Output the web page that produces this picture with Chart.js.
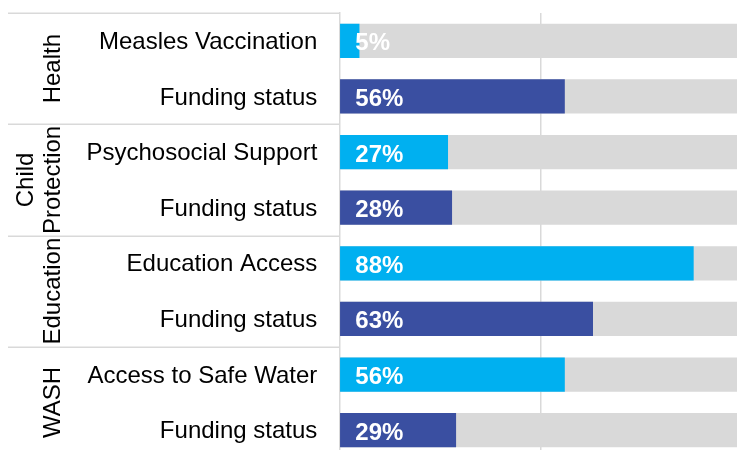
<!DOCTYPE html>
<html>
<head>
<meta charset="utf-8">
<script src="https://cdn.jsdelivr.net/npm/chart.js@4/dist/chart.umd.min.js"></script>
<style>
html, body { margin: 0; padding: 0; overflow: hidden; background: #fff; width: 737px; height: 450px; }
#wrap { width: 742px; height: 458px; }
canvas { display: block; }
</style>
</head>
<body>
<div id="wrap"><canvas id="c" width="742" height="458"></canvas></div>
<script>
// ---- data ----
const groupLabels = [['Health'], ['Child', 'Protection'], ['Education'], ['WASH']];
const groupSizes = [2, 2, 2, 2];
const categories = ['Measles Vaccination', 'Funding status', 'Psychosocial Support', 'Funding status',
                    'Education Access', 'Funding status', 'Access to Safe Water', 'Funding status'];
const values = [5, 56, 27, 28, 88, 63, 56, 29];
const fullScale = [100, 100, 100, 100, 100, 100, 100, 100];
const gridTicks = [0, 50, 100];

// ---- styles ----
const FONT = '"Liberation Sans", Arial, sans-serif';
const LIGHT = '#00B0F0';
const DARK = '#3A4FA1';
const GREY = '#D9D9D9';
const barColors = categories.map((c, i) => (i % 2 === 0 ? LIGHT : DARK));

const groupPlugin = {
  id: 'groups',
  afterDraw(chart) {
    const ctx = chart.ctx;
    const ys = chart.scales.y;
    const area = chart.chartArea;
    const pix = i => ys.getPixelForValue(i);
    const boundary = i => {
      if (i <= 0) return area.top;
      if (i >= categories.length) return area.bottom;
      return (pix(i - 1) + pix(i)) / 2;
    };
    ctx.save();
    ctx.strokeStyle = GREY;
    ctx.lineWidth = 1.5;
    let start = 0;
    groupSizes.forEach((n, g) => {
      const top = boundary(start);
      const bot = boundary(start + n);
      ctx.beginPath();
      ctx.moveTo(8, Math.round(top) + 0.25);
      ctx.lineTo(area.left, Math.round(top) + 0.25);
      ctx.stroke();
      const mid = (top + bot) / 2;
      const lines = groupLabels[g];
      ctx.fillStyle = '#000';
      ctx.font = '24px ' + FONT;
      ctx.textAlign = 'center';
      ctx.textBaseline = 'alphabetic';
      lines.forEach((t, k) => {
        const x = 60 - (lines.length - 1 - k) * 27;
        ctx.save();
        ctx.translate(x, mid);
        ctx.rotate(-Math.PI / 2);
        ctx.fillText(t, 0, 0);
        ctx.restore();
      });
      start += n;
    });
    // value labels
    const meta = chart.getDatasetMeta(0);
    ctx.fillStyle = '#fff';
    ctx.font = 'bold 24px ' + FONT;
    ctx.textAlign = 'left';
    ctx.textBaseline = 'alphabetic';
    meta.data.forEach((bar, i) => {
      ctx.fillText(values[i] + '%', area.left + 16, bar.y + 9.5);
    });
    ctx.restore();
  }
};

new Chart(document.getElementById('c'), {
  type: 'bar',
  data: {
    labels: categories,
    datasets: [
      { data: values, backgroundColor: barColors, order: 0, grouped: false,
        barPercentage: 0.615, categoryPercentage: 1 },
      { data: fullScale, backgroundColor: GREY, order: 1, grouped: false,
        barPercentage: 0.615, categoryPercentage: 1 }
    ]
  },
  options: {
    indexAxis: 'y',
    responsive: false,
    animation: false,
    layout: { padding: { top: 13, left: 0, right: 0, bottom: 0 } },
    plugins: { legend: { display: false }, tooltip: { enabled: false } },
    scales: {
      x: {
        min: gridTicks[0], max: gridTicks[gridTicks.length - 1],
        afterBuildTicks: s => { s.ticks = gridTicks.map(v => ({ value: v })); },
        afterFit: s => { s.height = 0; s.paddingLeft = 0; s.paddingRight = 0; s.paddingTop = 0; s.paddingBottom = 0; },
        ticks: { display: false },
        border: { display: false },
        grid: {
          drawTicks: false,
          lineWidth: 1.5,
          color: c => (c.tick && c.tick.value === 50 ? GREY : 'rgba(0,0,0,0)')
        }
      },
      y: {
        afterFit: s => { s.width = 339.3; s.paddingTop = 0; s.paddingBottom = 0; s.paddingLeft = 0; s.paddingRight = 0; },
        ticks: { color: '#000', padding: 22, labelOffset: 1.5, font: { family: FONT, size: 24 } },
        grid: { display: false, drawTicks: false },
        border: { display: true, color: GREY, width: 1.5 }
      }
    }
  },
  plugins: [groupPlugin]
});
</script>
</body>
</html>
